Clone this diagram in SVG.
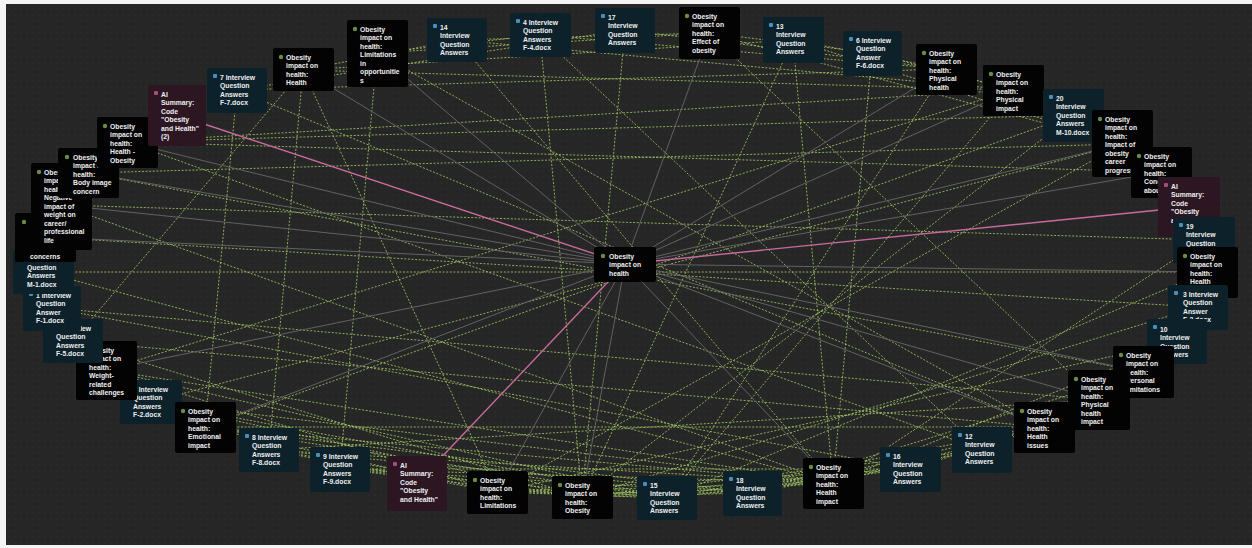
<svg xmlns="http://www.w3.org/2000/svg" width="1252" height="548" viewBox="0 0 1252 548">
<defs>
<pattern id="dots" width="6" height="6" patternUnits="userSpaceOnUse"><rect width="6" height="6" fill="#262626"/><circle cx="3" cy="3" r="0.7" fill="#313131"/></pattern>
<style>
.code rect.b{fill:#030303}
.doc rect.b{fill:#0d212b}
.ai rect.b{fill:#2b1622}
text{fill:#efefef;font-family:"Liberation Sans",Arial,sans-serif;font-size:6.8px;font-weight:bold}
.dc{fill:#6b8c46}
.dd{fill:#4b8db6}
.da{fill:#a64d78}
.g{stroke:#626262;stroke-width:1}
.p{stroke:#c86a9c;stroke-width:1.4}
.d{stroke:#a4cc66;stroke-width:1;stroke-dasharray:2 1.6;opacity:0.82}
</style>
</defs>
<rect width="1252" height="548" fill="#f4f4f4"/>
<rect x="6" y="4" width="1246" height="541" fill="url(#dots)"/>
<g id="connectors">
<line class="d" x1="377" y1="53" x2="709" y2="33"/>
<line class="d" x1="303" y1="70" x2="457" y2="40"/>
<line class="d" x1="377" y1="53" x2="540" y2="35"/>
<line class="d" x1="457" y1="40" x2="709" y2="33"/>
<line class="d" x1="709" y1="33" x2="872" y2="53"/>
<line class="d" x1="793" y1="40" x2="946" y2="69"/>
<line class="d" x1="625" y1="30" x2="946" y2="69"/>
<line class="d" x1="872" y1="53" x2="1013" y2="90"/>
<line class="d" x1="946" y1="69" x2="1073" y2="115"/>
<line class="d" x1="237" y1="90" x2="625" y2="30"/>
<line class="d" x1="127" y1="142" x2="1013" y2="90"/>
<line class="d" x1="237" y1="90" x2="946" y2="69"/>
<line class="d" x1="303" y1="70" x2="793" y2="40"/>
<line class="d" x1="457" y1="40" x2="1013" y2="90"/>
<line class="d" x1="540" y1="35" x2="946" y2="69"/>
<line class="d" x1="709" y1="33" x2="1122" y2="144"/>
<line class="d" x1="793" y1="40" x2="1122" y2="144"/>
<line class="d" x1="303" y1="70" x2="1013" y2="90"/>
<line class="d" x1="127" y1="142" x2="1073" y2="115"/>
<line class="d" x1="88" y1="173" x2="1122" y2="144"/>
<line class="d" x1="303" y1="70" x2="73" y2="341"/>
<line class="d" x1="303" y1="70" x2="269" y2="450"/>
<line class="d" x1="303" y1="70" x2="497" y2="492"/>
<line class="d" x1="540" y1="35" x2="582" y2="497"/>
<line class="d" x1="625" y1="30" x2="582" y2="497"/>
<line class="d" x1="540" y1="35" x2="982" y2="450"/>
<line class="d" x1="793" y1="40" x2="582" y2="497"/>
<line class="d" x1="793" y1="40" x2="833" y2="483"/>
<line class="d" x1="709" y1="33" x2="1099" y2="400"/>
<line class="d" x1="872" y1="53" x2="833" y2="483"/>
<line class="d" x1="946" y1="69" x2="667" y2="498"/>
<line class="d" x1="1013" y1="90" x2="667" y2="498"/>
<line class="d" x1="1073" y1="115" x2="582" y2="497"/>
<line class="d" x1="457" y1="40" x2="833" y2="483"/>
<line class="d" x1="377" y1="53" x2="340" y2="469"/>
<line class="d" x1="237" y1="90" x2="205" y2="427"/>
<line class="d" x1="377" y1="53" x2="1044" y2="427"/>
<line class="d" x1="88" y1="173" x2="1143" y2="372"/>
<line class="d" x1="61" y1="205" x2="1204" y2="240"/>
<line class="d" x1="45" y1="237" x2="1198" y2="307"/>
<line class="d" x1="43" y1="272" x2="1207" y2="272"/>
<line class="d" x1="52" y1="308" x2="1099" y2="400"/>
<line class="d" x1="73" y1="341" x2="1044" y2="427"/>
<line class="d" x1="127" y1="142" x2="1161" y2="172"/>
<line class="d" x1="1204" y1="240" x2="833" y2="483"/>
<line class="d" x1="1198" y1="307" x2="582" y2="497"/>
<line class="d" x1="1177" y1="342" x2="497" y2="492"/>
<line class="d" x1="1207" y1="272" x2="667" y2="498"/>
<line class="d" x1="1143" y1="372" x2="752" y2="493"/>
<line class="d" x1="1122" y1="144" x2="497" y2="492"/>
<line class="d" x1="1073" y1="115" x2="205" y2="427"/>
<line class="d" x1="1122" y1="144" x2="151" y2="402"/>
<line class="d" x1="1013" y1="90" x2="106" y2="370"/>
<line class="d" x1="127" y1="142" x2="982" y2="450"/>
<line class="d" x1="61" y1="205" x2="833" y2="483"/>
<line class="d" x1="237" y1="90" x2="1044" y2="427"/>
<line class="d" x1="106" y1="370" x2="833" y2="483"/>
<line class="d" x1="151" y1="402" x2="582" y2="497"/>
<line class="d" x1="205" y1="427" x2="667" y2="498"/>
<line class="d" x1="269" y1="450" x2="752" y2="493"/>
<line class="d" x1="340" y1="469" x2="833" y2="483"/>
<line class="d" x1="205" y1="427" x2="497" y2="492"/>
<line class="d" x1="269" y1="450" x2="582" y2="497"/>
<line class="d" x1="497" y1="492" x2="910" y2="469"/>
<line class="d" x1="582" y1="497" x2="982" y2="450"/>
<line class="d" x1="667" y1="498" x2="1044" y2="427"/>
<line class="d" x1="910" y1="469" x2="1099" y2="400"/>
<line class="d" x1="982" y1="450" x2="1143" y2="372"/>
<line class="d" x1="205" y1="427" x2="752" y2="493"/>
<line class="d" x1="106" y1="370" x2="497" y2="492"/>
<line class="d" x1="151" y1="402" x2="667" y2="498"/>
<line class="d" x1="73" y1="341" x2="582" y2="497"/>
<line class="d" x1="752" y1="493" x2="1044" y2="427"/>
<line class="d" x1="833" y1="483" x2="1177" y2="342"/>
<line class="d" x1="497" y1="492" x2="667" y2="498"/>
<line class="d" x1="582" y1="497" x2="752" y2="493"/>
<line class="d" x1="340" y1="469" x2="582" y2="497"/>
<line class="d" x1="52" y1="308" x2="910" y2="469"/>
<line class="d" x1="43" y1="272" x2="833" y2="483"/>
<line class="d" x1="340" y1="469" x2="667" y2="498"/>
<line class="d" x1="269" y1="450" x2="497" y2="492"/>
<line class="d" x1="340" y1="469" x2="910" y2="469"/>
<line class="d" x1="205" y1="427" x2="833" y2="483"/>
<line class="d" x1="151" y1="402" x2="833" y2="483"/>
<line class="d" x1="106" y1="370" x2="667" y2="498"/>
<line class="d" x1="497" y1="492" x2="833" y2="483"/>
<line class="d" x1="582" y1="497" x2="833" y2="483"/>
<line class="d" x1="582" y1="497" x2="910" y2="469"/>
<line class="d" x1="497" y1="492" x2="752" y2="493"/>
<line class="d" x1="667" y1="498" x2="910" y2="469"/>
<line class="d" x1="752" y1="493" x2="982" y2="450"/>
<line class="d" x1="833" y1="483" x2="1044" y2="427"/>
<line class="d" x1="910" y1="469" x2="1044" y2="427"/>
<line class="d" x1="269" y1="450" x2="833" y2="483"/>
<line class="d" x1="340" y1="469" x2="752" y2="493"/>
<line class="d" x1="205" y1="427" x2="1044" y2="427"/>
<line class="d" x1="269" y1="450" x2="1099" y2="400"/>
<line class="g" x1="625" y1="264" x2="377" y2="53"/>
<line class="g" x1="625" y1="264" x2="303" y2="70"/>
<line class="g" x1="625" y1="264" x2="127" y2="142"/>
<line class="g" x1="625" y1="264" x2="88" y2="173"/>
<line class="g" x1="625" y1="264" x2="61" y2="205"/>
<line class="g" x1="625" y1="264" x2="45" y2="237"/>
<line class="g" x1="625" y1="264" x2="106" y2="370"/>
<line class="g" x1="625" y1="264" x2="205" y2="427"/>
<line class="g" x1="625" y1="264" x2="497" y2="492"/>
<line class="g" x1="625" y1="264" x2="582" y2="497"/>
<line class="g" x1="625" y1="264" x2="833" y2="483"/>
<line class="g" x1="625" y1="264" x2="1044" y2="427"/>
<line class="g" x1="625" y1="264" x2="1099" y2="400"/>
<line class="g" x1="625" y1="264" x2="1143" y2="372"/>
<line class="g" x1="625" y1="264" x2="1207" y2="272"/>
<line class="g" x1="625" y1="264" x2="1161" y2="172"/>
<line class="g" x1="625" y1="264" x2="1122" y2="144"/>
<line class="g" x1="625" y1="264" x2="1013" y2="90"/>
<line class="g" x1="625" y1="264" x2="946" y2="69"/>
<line class="g" x1="625" y1="264" x2="709" y2="33"/>
<line class="p" x1="625" y1="264" x2="177" y2="115"/>
<line class="p" x1="625" y1="264" x2="1189" y2="207"/>
<line class="p" x1="625" y1="264" x2="417" y2="483"/>
</g>

<g id="n-doc2" class="doc"><rect class="b" x="120" y="380" width="62" height="44" rx="2"/><rect class="dd" x="126" y="386" width="4" height="4" rx="1"/><text x="133" y="391.5"><tspan x="133">2 Interview</tspan><tspan x="133" dy="8.5">Question</tspan><tspan x="133" dy="8.5">Answers</tspan><tspan x="133" dy="8.5">F-2.docx</tspan></text></g>
<g id="n-weight" class="code"><rect class="b" x="76" y="341" width="61" height="59" rx="2"/><circle class="dc" cx="84" cy="350" r="2.2"/><text x="89" y="352.5"><tspan x="89">Obesity</tspan><tspan x="89" dy="8.5">impact on</tspan><tspan x="89" dy="8.5">health:</tspan><tspan x="89" dy="8.5">Weight-</tspan><tspan x="89" dy="8.5">related</tspan><tspan x="89" dy="8.5">challenges</tspan></text></g>
<g id="n-doc5" class="doc"><rect class="b" x="43" y="319" width="60" height="44" rx="2"/><rect class="dd" x="49" y="325" width="4" height="4" rx="1"/><text x="56" y="330.5"><tspan x="56">5 Interview</tspan><tspan x="56" dy="8.5">Question</tspan><tspan x="56" dy="8.5">Answers</tspan><tspan x="56" dy="8.5">F-5.docx</tspan></text></g>
<g id="n-doc1" class="doc"><rect class="b" x="23" y="286" width="58" height="45" rx="2"/><rect class="dd" x="29" y="292" width="4" height="4" rx="1"/><text x="36" y="297.5"><tspan x="36">1 Interview</tspan><tspan x="36" dy="8.5">Question</tspan><tspan x="36" dy="8.5">Answer</tspan><tspan x="36" dy="8.5">F-1.docx</tspan></text></g>
<g id="n-doc11" class="doc"><rect class="b" x="13" y="250" width="61" height="44" rx="2"/><text x="27" y="269.5"><tspan x="27">Question</tspan><tspan x="27" dy="8.5">Answers</tspan><tspan x="27" dy="8.5">M-1.docx</tspan></text></g>
<g id="n-appearance" class="code"><rect class="b" x="15" y="213" width="61" height="49" rx="2"/><circle class="dc" cx="24" cy="222" r="2.2"/><text x="30" y="258.5">concerns</text></g>
<g id="n-career" class="code"><rect class="b" x="31" y="163" width="61" height="87" rx="2"/><circle class="dc" cx="39" cy="172" r="2.2"/><text x="44" y="174.5"><tspan x="44">Obesity</tspan><tspan x="44" dy="8.5">impact on</tspan><tspan x="44" dy="8.5">health:</tspan><tspan x="44" dy="8.5">Negative</tspan><tspan x="44" dy="8.5">impact of</tspan><tspan x="44" dy="8.5">weight on</tspan><tspan x="44" dy="8.5">career/</tspan><tspan x="44" dy="8.5">professional</tspan><tspan x="44" dy="8.5">life</tspan></text></g>
<g id="n-bodyimage" class="code"><rect class="b" x="58" y="148" width="61" height="50" rx="2"/><circle class="dc" cx="67" cy="157" r="2.2"/><text x="73" y="159.5"><tspan x="73">Obesity</tspan><tspan x="73" dy="8.5">impact on</tspan><tspan x="73" dy="8.5">health:</tspan><tspan x="73" dy="8.5">Body image</tspan><tspan x="73" dy="8.5">concern</tspan></text></g>
<g id="n-healthobesity" class="code"><rect class="b" x="97" y="117" width="61" height="51" rx="2"/><circle class="dc" cx="105" cy="126" r="2.2"/><text x="110" y="128.5"><tspan x="110">Obesity</tspan><tspan x="110" dy="8.5">impact on</tspan><tspan x="110" dy="8.5">health:</tspan><tspan x="110" dy="8.5">Health -</tspan><tspan x="110" dy="8.5">Obesity</tspan></text></g>
<g id="n-ai1" class="ai"><rect class="b" x="148" y="85" width="58" height="61" rx="2"/><rect class="da" x="154" y="91" width="4" height="4" rx="1"/><text x="161" y="96.5"><tspan x="161">AI</tspan><tspan x="161" dy="8.5">Summary:</tspan><tspan x="161" dy="8.5">Code</tspan><tspan x="161" dy="8.5">"Obesity</tspan><tspan x="161" dy="8.5">and Health"</tspan><tspan x="161" dy="8.5">(2)</tspan></text></g>
<g id="n-doc7" class="doc"><rect class="b" x="207" y="68" width="60" height="45" rx="2"/><rect class="dd" x="213" y="74" width="4" height="4" rx="1"/><text x="220" y="79.5"><tspan x="220">7 Interview</tspan><tspan x="220" dy="8.5">Question</tspan><tspan x="220" dy="8.5">Answers</tspan><tspan x="220" dy="8.5">F-7.docx</tspan></text></g>
<g id="n-health" class="code"><rect class="b" x="273" y="48" width="61" height="43" rx="2"/><circle class="dc" cx="281" cy="57" r="2.2"/><text x="286" y="59.5"><tspan x="286">Obesity</tspan><tspan x="286" dy="8.5">impact on</tspan><tspan x="286" dy="8.5">health:</tspan><tspan x="286" dy="8.5">Health</tspan></text></g>
<g id="n-limopp" class="code"><rect class="b" x="347" y="20" width="61" height="67" rx="2"/><circle class="dc" cx="355" cy="29" r="2.2"/><text x="360" y="31.5"><tspan x="360">Obesity</tspan><tspan x="360" dy="8.5">impact on</tspan><tspan x="360" dy="8.5">health:</tspan><tspan x="360" dy="8.5">Limitations</tspan><tspan x="360" dy="8.5">in</tspan><tspan x="360" dy="8.5">opportunitie</tspan><tspan x="360" dy="8.5">s</tspan></text></g>
<g id="n-doc14" class="doc"><rect class="b" x="427" y="18" width="60" height="44" rx="2"/><rect class="dd" x="433" y="24" width="4" height="4" rx="1"/><text x="440" y="29.5"><tspan x="440">14</tspan><tspan x="440" dy="8.5">Interview</tspan><tspan x="440" dy="8.5">Question</tspan><tspan x="440" dy="8.5">Answers</tspan></text></g>
<g id="n-doc4" class="doc"><rect class="b" x="510" y="13" width="61" height="44" rx="2"/><rect class="dd" x="516" y="19" width="4" height="4" rx="1"/><text x="523" y="24.5"><tspan x="523">4 Interview</tspan><tspan x="523" dy="8.5">Question</tspan><tspan x="523" dy="8.5">Answers</tspan><tspan x="523" dy="8.5">F-4.docx</tspan></text></g>
<g id="n-doc17" class="doc"><rect class="b" x="595" y="8" width="60" height="45" rx="2"/><rect class="dd" x="601" y="14" width="4" height="4" rx="1"/><text x="608" y="19.5"><tspan x="608">17</tspan><tspan x="608" dy="8.5">Interview</tspan><tspan x="608" dy="8.5">Question</tspan><tspan x="608" dy="8.5">Answers</tspan></text></g>
<g id="n-effect" class="code"><rect class="b" x="679" y="7" width="61" height="52" rx="2"/><circle class="dc" cx="687" cy="16" r="2.2"/><text x="692" y="18.5"><tspan x="692">Obesity</tspan><tspan x="692" dy="8.5">impact on</tspan><tspan x="692" dy="8.5">health:</tspan><tspan x="692" dy="8.5">Effect of</tspan><tspan x="692" dy="8.5">obesity</tspan></text></g>
<g id="n-doc13" class="doc"><rect class="b" x="763" y="17" width="61" height="46" rx="2"/><rect class="dd" x="769" y="23" width="4" height="4" rx="1"/><text x="776" y="28.5"><tspan x="776">13</tspan><tspan x="776" dy="8.5">Interview</tspan><tspan x="776" dy="8.5">Question</tspan><tspan x="776" dy="8.5">Answers</tspan></text></g>
<g id="n-doc6" class="doc"><rect class="b" x="843" y="31" width="59" height="45" rx="2"/><rect class="dd" x="849" y="37" width="4" height="4" rx="1"/><text x="856" y="42.5"><tspan x="856">6 Interview</tspan><tspan x="856" dy="8.5">Question</tspan><tspan x="856" dy="8.5">Answer</tspan><tspan x="856" dy="8.5">F-6.docx</tspan></text></g>
<g id="n-physhealth" class="code"><rect class="b" x="916" y="44" width="61" height="51" rx="2"/><circle class="dc" cx="924" cy="53" r="2.2"/><text x="929" y="55.5"><tspan x="929">Obesity</tspan><tspan x="929" dy="8.5">impact on</tspan><tspan x="929" dy="8.5">health:</tspan><tspan x="929" dy="8.5">Physical</tspan><tspan x="929" dy="8.5">health</tspan></text></g>
<g id="n-physimpact" class="code"><rect class="b" x="983" y="65" width="61" height="51" rx="2"/><circle class="dc" cx="991" cy="74" r="2.2"/><text x="996" y="76.5"><tspan x="996">Obesity</tspan><tspan x="996" dy="8.5">impact on</tspan><tspan x="996" dy="8.5">health:</tspan><tspan x="996" dy="8.5">Physical</tspan><tspan x="996" dy="8.5">impact</tspan></text></g>
<g id="n-doc20" class="doc"><rect class="b" x="1043" y="89" width="61" height="53" rx="2"/><rect class="dd" x="1049" y="95" width="4" height="4" rx="1"/><text x="1056" y="100.5"><tspan x="1056">20</tspan><tspan x="1056" dy="8.5">Interview</tspan><tspan x="1056" dy="8.5">Question</tspan><tspan x="1056" dy="8.5">Answers</tspan><tspan x="1056" dy="8.5">M-10.docx</tspan></text></g>
<g id="n-careerprog" class="code"><rect class="b" x="1092" y="110" width="61" height="67" rx="2"/><circle class="dc" cx="1100" cy="119" r="2.2"/><text x="1105" y="121.5"><tspan x="1105">Obesity</tspan><tspan x="1105" dy="8.5">impact on</tspan><tspan x="1105" dy="8.5">health:</tspan><tspan x="1105" dy="8.5">Impact of</tspan><tspan x="1105" dy="8.5">obesity</tspan><tspan x="1105" dy="8.5">career</tspan><tspan x="1105" dy="8.5">progression</tspan></text></g>
<g id="n-concerns" class="code"><rect class="b" x="1131" y="147" width="61" height="51" rx="2"/><circle class="dc" cx="1139" cy="156" r="2.2"/><text x="1144" y="158.5"><tspan x="1144">Obesity</tspan><tspan x="1144" dy="8.5">impact on</tspan><tspan x="1144" dy="8.5">health:</tspan><tspan x="1144" dy="8.5">Concerns</tspan><tspan x="1144" dy="8.5">about</tspan></text></g>
<g id="n-ai2" class="ai"><rect class="b" x="1158" y="177" width="62" height="60" rx="2"/><rect class="da" x="1164" y="183" width="4" height="4" rx="1"/><text x="1171" y="188.5"><tspan x="1171">AI</tspan><tspan x="1171" dy="8.5">Summary:</tspan><tspan x="1171" dy="8.5">Code</tspan><tspan x="1171" dy="8.5">"Obesity</tspan><tspan x="1171" dy="8.5">and Health"</tspan></text></g>
<g id="n-doc19" class="doc"><rect class="b" x="1173" y="217" width="62" height="46" rx="2"/><rect class="dd" x="1179" y="223" width="4" height="4" rx="1"/><text x="1186" y="228.5"><tspan x="1186">19</tspan><tspan x="1186" dy="8.5">Interview</tspan><tspan x="1186" dy="8.5">Question</tspan><tspan x="1186" dy="8.5">Answers</tspan></text></g>
<g id="n-healthx" class="code"><rect class="b" x="1177" y="247" width="61" height="51" rx="2"/><circle class="dc" cx="1185" cy="256" r="2.2"/><text x="1190" y="258.5"><tspan x="1190">Obesity</tspan><tspan x="1190" dy="8.5">impact on</tspan><tspan x="1190" dy="8.5">health:</tspan><tspan x="1190" dy="8.5">Health</tspan></text></g>
<g id="n-doc3" class="doc"><rect class="b" x="1168" y="285" width="60" height="45" rx="2"/><rect class="dd" x="1174" y="291" width="4" height="4" rx="1"/><text x="1183" y="296.5"><tspan x="1183">3 Interview</tspan><tspan x="1183" dy="8.5">Question</tspan><tspan x="1183" dy="8.5">Answer</tspan><tspan x="1183" dy="8.5">F-3.docx</tspan></text></g>
<g id="n-doc10" class="doc"><rect class="b" x="1147" y="319" width="60" height="45" rx="2"/><rect class="dd" x="1153" y="325" width="4" height="4" rx="1"/><text x="1160" y="331.5"><tspan x="1160">10</tspan><tspan x="1160" dy="8.5">Interview</tspan><tspan x="1160" dy="8.5">Question</tspan><tspan x="1160" dy="8.5">Answers</tspan></text></g>
<g id="n-personal" class="code"><rect class="b" x="1113" y="346" width="61" height="52" rx="2"/><circle class="dc" cx="1121" cy="355" r="2.2"/><text x="1126" y="357.5"><tspan x="1126">Obesity</tspan><tspan x="1126" dy="8.5">impact on</tspan><tspan x="1126" dy="8.5">health:</tspan><tspan x="1126" dy="8.5">Personal</tspan><tspan x="1126" dy="8.5">limitations</tspan></text></g>
<g id="n-physhealthimpact" class="code"><rect class="b" x="1068" y="370" width="62" height="60" rx="2"/><circle class="dc" cx="1076" cy="379" r="2.2"/><text x="1081" y="381.5"><tspan x="1081">Obesity</tspan><tspan x="1081" dy="8.5">impact on</tspan><tspan x="1081" dy="8.5">health:</tspan><tspan x="1081" dy="8.5">Physical</tspan><tspan x="1081" dy="8.5">health</tspan><tspan x="1081" dy="8.5">impact</tspan></text></g>
<g id="n-healthissues" class="code"><rect class="b" x="1014" y="402" width="61" height="51" rx="2"/><circle class="dc" cx="1022" cy="411" r="2.2"/><text x="1027" y="413.5"><tspan x="1027">Obesity</tspan><tspan x="1027" dy="8.5">impact on</tspan><tspan x="1027" dy="8.5">health:</tspan><tspan x="1027" dy="8.5">Health</tspan><tspan x="1027" dy="8.5">issues</tspan></text></g>
<g id="n-doc12" class="doc"><rect class="b" x="952" y="427" width="60" height="46" rx="2"/><rect class="dd" x="958" y="433" width="4" height="4" rx="1"/><text x="965" y="438.5"><tspan x="965">12</tspan><tspan x="965" dy="8.5">Interview</tspan><tspan x="965" dy="8.5">Question</tspan><tspan x="965" dy="8.5">Answers</tspan></text></g>
<g id="n-doc16" class="doc"><rect class="b" x="880" y="447" width="61" height="45" rx="2"/><rect class="dd" x="886" y="453" width="4" height="4" rx="1"/><text x="893" y="458.5"><tspan x="893">16</tspan><tspan x="893" dy="8.5">Interview</tspan><tspan x="893" dy="8.5">Question</tspan><tspan x="893" dy="8.5">Answers</tspan></text></g>
<g id="n-healthimpact" class="code"><rect class="b" x="803" y="458" width="61" height="51" rx="2"/><circle class="dc" cx="811" cy="467" r="2.2"/><text x="816" y="469.5"><tspan x="816">Obesity</tspan><tspan x="816" dy="8.5">impact on</tspan><tspan x="816" dy="8.5">health:</tspan><tspan x="816" dy="8.5">Health</tspan><tspan x="816" dy="8.5">impact</tspan></text></g>
<g id="n-doc18" class="doc"><rect class="b" x="723" y="471" width="59" height="45" rx="2"/><rect class="dd" x="729" y="477" width="4" height="4" rx="1"/><text x="736" y="482.5"><tspan x="736">18</tspan><tspan x="736" dy="8.5">Interview</tspan><tspan x="736" dy="8.5">Question</tspan><tspan x="736" dy="8.5">Answers</tspan></text></g>
<g id="n-doc15" class="doc"><rect class="b" x="637" y="476" width="60" height="44" rx="2"/><rect class="dd" x="643" y="482" width="4" height="4" rx="1"/><text x="650" y="487.5"><tspan x="650">15</tspan><tspan x="650" dy="8.5">Interview</tspan><tspan x="650" dy="8.5">Question</tspan><tspan x="650" dy="8.5">Answers</tspan></text></g>
<g id="n-obesity" class="code"><rect class="b" x="552" y="476" width="61" height="43" rx="2"/><circle class="dc" cx="560" cy="485" r="2.2"/><text x="565" y="487.5"><tspan x="565">Obesity</tspan><tspan x="565" dy="8.5">impact on</tspan><tspan x="565" dy="8.5">health:</tspan><tspan x="565" dy="8.5">Obesity</tspan></text></g>
<g id="n-limitations" class="code"><rect class="b" x="467" y="471" width="61" height="43" rx="2"/><circle class="dc" cx="475" cy="480" r="2.2"/><text x="480" y="482.5"><tspan x="480">Obesity</tspan><tspan x="480" dy="8.5">impact on</tspan><tspan x="480" dy="8.5">health:</tspan><tspan x="480" dy="8.5">Limitations</tspan></text></g>
<g id="n-ai3" class="ai"><rect class="b" x="387" y="456" width="60" height="55" rx="2"/><rect class="da" x="393" y="462" width="4" height="4" rx="1"/><text x="400" y="467.5"><tspan x="400">AI</tspan><tspan x="400" dy="8.5">Summary:</tspan><tspan x="400" dy="8.5">Code</tspan><tspan x="400" dy="8.5">"Obesity</tspan><tspan x="400" dy="8.5">and Health"</tspan></text></g>
<g id="n-doc9" class="doc"><rect class="b" x="310" y="447" width="60" height="45" rx="2"/><rect class="dd" x="316" y="453" width="4" height="4" rx="1"/><text x="323" y="458.5"><tspan x="323">9 Interview</tspan><tspan x="323" dy="8.5">Question</tspan><tspan x="323" dy="8.5">Answers</tspan><tspan x="323" dy="8.5">F-9.docx</tspan></text></g>
<g id="n-doc8" class="doc"><rect class="b" x="239" y="428" width="60" height="44" rx="2"/><rect class="dd" x="245" y="434" width="4" height="4" rx="1"/><text x="252" y="439.5"><tspan x="252">8 Interview</tspan><tspan x="252" dy="8.5">Question</tspan><tspan x="252" dy="8.5">Answers</tspan><tspan x="252" dy="8.5">F-8.docx</tspan></text></g>
<g id="n-emotional" class="code"><rect class="b" x="175" y="402" width="61" height="51" rx="2"/><circle class="dc" cx="183" cy="411" r="2.2"/><text x="188" y="413.5"><tspan x="188">Obesity</tspan><tspan x="188" dy="8.5">impact on</tspan><tspan x="188" dy="8.5">health:</tspan><tspan x="188" dy="8.5">Emotional</tspan><tspan x="188" dy="8.5">impact</tspan></text></g>
<g id="n-center" class="code"><rect class="b" x="594" y="247" width="62" height="35" rx="2"/><circle class="dc" cx="603" cy="256" r="2.2"/><text x="609" y="258.5"><tspan x="609">Obesity</tspan><tspan x="609" dy="8.5">impact on</tspan><tspan x="609" dy="8.5">health</tspan></text></g>
</svg>
